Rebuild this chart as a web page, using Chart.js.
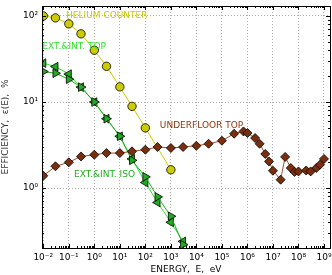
<!DOCTYPE html>
<html>
<head>
<meta charset="utf-8">
<script src="https://cdn.jsdelivr.net/npm/chart.js@4/dist/chart.umd.min.js"></script>
<style>
  html, body { margin: 0; padding: 0; background: #fff; }
  #wrap { width: 332px; height: 275px; }
</style>
</head>
<body>
<div id="wrap"><canvas id="chart" width="332" height="275"></canvas></div>
<script>
// energies (eV)
const greenEnergy = [0.01, 0.03, 0.1, 0.3, 1, 3, 10, 30, 100, 300, 1000, 3000];
const heliumEnergy = [0.01, 0.03, 0.1, 0.3, 1, 3, 10, 30, 100, 1000];
const floorEnergy = [0.01, 0.03, 0.1, 0.3, 1, 3, 10, 30, 100, 300, 1000, 3000, 1e4, 3e4, 1e5, 3e5, 7e5, 1e6,
  2e6, 3e6, 5e6, 7e6, 1e7, 2e7, 3e7, 5e7, 7e7, 1e8, 2e8, 3e8, 5e8, 7e8, 1e9];

// efficiencies (%)
const heliumEff = [100, 95, 81, 62, 40, 26, 15, 8.9, 5.0, 1.63];
const topEff = [28.3, 25.8, 21.1, 14.9, 10.0, 6.4, 4.0, 2.18, 1.16, 0.68, 0.40, 0.24];
const isoEff = [22.6, 21.6, 18.4, 14.9, 10.0, 6.4, 4.0, 2.1, 1.35, 0.79, 0.47, 0.22];
const floorEff = [1.39, 1.79, 1.99, 2.33, 2.44, 2.55, 2.55, 2.67, 2.79, 3.0, 2.92, 3.0, 3.10, 3.27, 3.55, 4.28,
  4.55, 4.36, 3.81, 3.27, 2.49, 2.04, 1.59, 1.25, 2.30, 1.71, 1.54, 1.56, 1.60, 1.56, 1.71, 1.87, 2.18];

const xTicks = [-2, -1, 0, 1, 2, 3, 4, 5, 6, 7, 8, 9];
const yTicks = [0, 1, 2];

// series labels, anchored in data coordinates
const seriesLabels = [
  { text: 'HELIUM COUNTER', x: 0.078, y: 101, color: '#c8c800' },
  { text: 'EXT.&INT. TOP', x: 0.0092, y: 43.7, color: '#33dd33' },
  { text: 'UNDERFLOOR TOP', x: 370, y: 5.3, color: '#8b3510' },
  { text: 'EXT.&INT. ISO', x: 0.16, y: 1.43, color: '#22aa22' }
];

const sup = { '-': '\u207b', '0': '\u2070', '1': '\u00b9', '2': '\u00b2', '3': '\u00b3', '4': '\u2074',
  '5': '\u2075', '6': '\u2076', '7': '\u2077', '8': '\u2078', '9': '\u2079' };
function powLabel(v) {
  const e = Math.round(Math.log10(v));
  return '10' + String(e).split('').map(c => sup[c]).join('');
}

function pts(xs, ys) {
  return xs.map((x, i) => ({ x: x, y: ys[i] }));
}

const FONT = 'DejaVu Sans';

const frame = {
  id: 'frame',
  afterDatasetsDraw(chart) {
    const ctx = chart.ctx;
    const a = chart.chartArea;
    const xs = chart.scales.x, ys = chart.scales.y;
    ctx.save();
    ctx.strokeStyle = '#000';
    ctx.lineWidth = 1;
    // minor and major inward ticks on all four sides
    ctx.beginPath();
    for (let e = -3; e <= 9; e++) {
      for (let m = 1; m <= 9; m++) {
        const v = m * Math.pow(10, e);
        if (v < xs.min || v > xs.max) continue;
        const px = Math.round(xs.getPixelForValue(v)) + 0.5;
        const len = m === 1 ? 4 : 2;
        ctx.moveTo(px, a.bottom); ctx.lineTo(px, a.bottom - len);
        ctx.moveTo(px, a.top); ctx.lineTo(px, a.top + len);
      }
    }
    for (let e = -1; e <= 2; e++) {
      for (let m = 1; m <= 9; m++) {
        const v = m * Math.pow(10, e);
        if (v < ys.min || v > ys.max) continue;
        const py = Math.round(ys.getPixelForValue(v)) + 0.5;
        const len = m === 1 ? 4 : 2;
        ctx.moveTo(a.left, py); ctx.lineTo(a.left + len, py);
        ctx.moveTo(a.right, py); ctx.lineTo(a.right - len, py);
      }
    }
    ctx.stroke();
    ctx.strokeRect(Math.round(a.left) + 0.5, Math.round(a.top) + 0.5,
      Math.round(a.right - a.left), Math.round(a.bottom - a.top));
    // x tick labels
    ctx.font = '9px "' + FONT + '"';
    ctx.fillStyle = '#000';
    ctx.textAlign = 'center';
    ctx.textBaseline = 'middle';
    xTicks.forEach(e => {
      const v = Math.pow(10, e);
      ctx.fillText(powLabel(v), xs.getPixelForValue(v), a.bottom + 10);
    });
    // series labels
    ctx.textAlign = 'left';
    seriesLabels.forEach(l => {
      ctx.fillStyle = l.color;
      ctx.fillText(l.text, xs.getPixelForValue(l.x), ys.getPixelForValue(l.y));
    });
    ctx.restore();
  }
};

new Chart(document.getElementById('chart'), {
  type: 'line',
  data: {
    datasets: [
      {
        label: 'UNDERFLOOR TOP',
        data: pts(floorEnergy, floorEff),
        borderColor: '#a0522d',
        borderWidth: 1,
        pointStyle: 'rectRot',
        pointRadius: 4.5,
        pointBackgroundColor: '#7a2e0e',
        pointBorderColor: '#000',
        pointBorderWidth: 0.8
      },
      {
        label: 'HELIUM COUNTER',
        data: pts(heliumEnergy, heliumEff),
        borderColor: '#cccc00',
        borderWidth: 1,
        pointStyle: 'circle',
        pointRadius: 4.2,
        pointBackgroundColor: '#cccc00',
        pointBorderColor: '#000',
        pointBorderWidth: 0.8
      },
      {
        label: 'EXT.&INT. ISO',
        data: pts(greenEnergy, isoEff),
        borderColor: '#22aa22',
        borderWidth: 1,
        pointStyle: 'triangle',
        rotation: 90,
        pointRadius: 5,
        pointBackgroundColor: '#22aa22',
        pointBorderColor: '#000',
        pointBorderWidth: 0.8
      },
      {
        label: 'EXT.&INT. TOP',
        data: pts(greenEnergy, topEff),
        borderColor: '#33dd33',
        borderWidth: 1,
        pointStyle: 'triangle',
        rotation: -90,
        pointRadius: 5,
        pointBackgroundColor: '#22aa22',
        pointBorderColor: '#000',
        pointBorderWidth: 0.8
      }
    ]
  },
  options: {
    responsive: false,
    animation: false,
    layout: { autoPadding: false, padding: { top: 6, right: 2, left: 0, bottom: 0 } },
    plugins: { legend: { display: false }, tooltip: { enabled: false } },
    scales: {
      x: {
        type: 'logarithmic',
        min: 0.00889,
        max: 1.72e9,
        afterBuildTicks: s => { s.ticks = xTicks.map(e => ({ value: Math.pow(10, e) })); },
        afterFit: s => { s.height = 27; s.paddingLeft = 0; s.paddingRight = 0; },
        ticks: { display: false },
        grid: { color: '#999', lineWidth: 0.8, drawTicks: false },
        border: { display: false, dash: [1, 2] },
        title: {
          display: true,
          text: 'ENERGY,  E,  eV',
          color: '#000',
          font: { family: FONT, size: 9 },
          padding: { top: 1, bottom: 0 }
        }
      },
      y: {
        type: 'logarithmic',
        min: 0.201,
        max: 130.6,
        afterBuildTicks: s => { s.ticks = yTicks.map(e => ({ value: Math.pow(10, e) })); },
        afterFit: s => { s.width = 42; s.paddingTop = 0; s.paddingBottom = 0; },
        ticks: {
          autoSkip: false,
          padding: 4,
          color: '#000',
          font: { family: FONT, size: 9 },
          callback: v => powLabel(v)
        },
        grid: { color: '#999', lineWidth: 0.8, drawTicks: false },
        border: { display: false, dash: [1, 2] },
        title: {
          display: true,
          text: 'EFFICIENCY,  \u03b5(E),  %',
          color: '#333',
          font: { family: FONT, size: 9 },
          padding: { top: 0, bottom: 2 }
        }
      }
    }
  },
  plugins: [frame]
});
</script>
</body>
</html>
